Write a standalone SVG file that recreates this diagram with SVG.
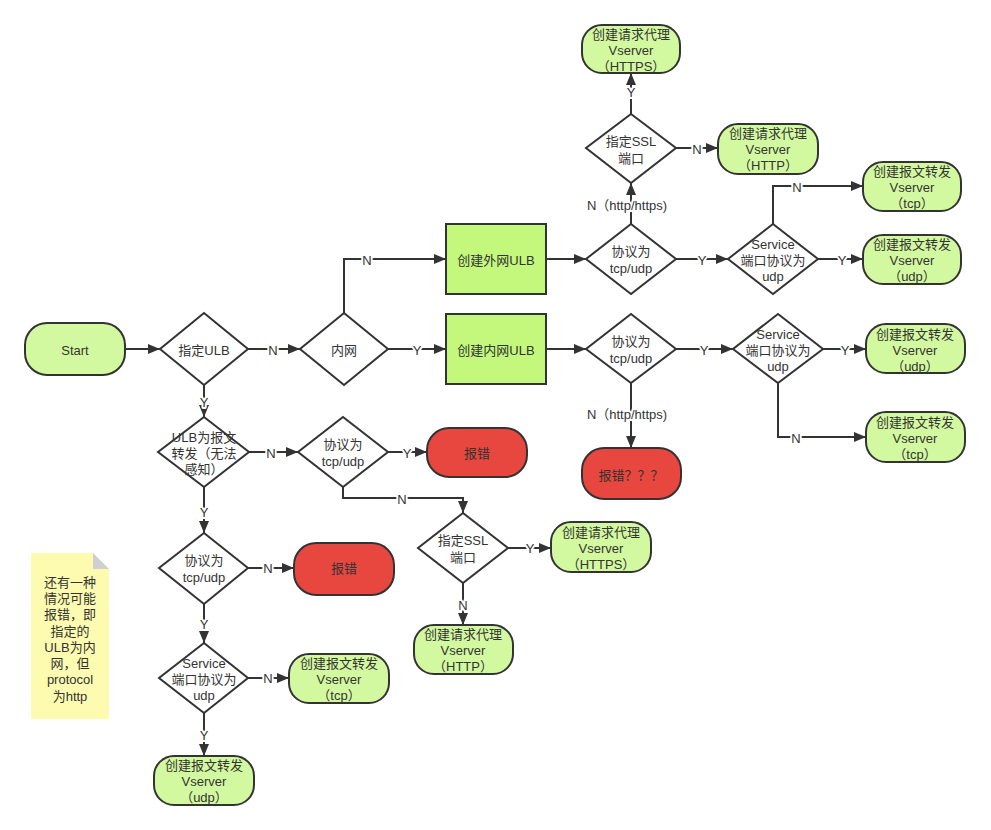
<svg xmlns="http://www.w3.org/2000/svg" width="991" height="830" viewBox="0 0 991 830">
<defs>
<marker id="ah" markerUnits="userSpaceOnUse" markerWidth="13" markerHeight="11" refX="12" refY="5" orient="auto"><path d="M0,0 L12,5 L0,10 z" fill="#333"/></marker>
<style>
text{font-family:"Liberation Sans","Noto Sans CJK SC",sans-serif;font-size:13px;fill:#333;text-anchor:middle;dominant-baseline:central}
.term{fill:#d3f9a0;stroke:#333;stroke-width:2}
.err{fill:#e8473f;stroke:#333;stroke-width:2}
.box{fill:#c3f87d;stroke:#333;stroke-width:2}
.dia{fill:#fff;stroke:#333;stroke-width:2}
.edge{fill:none;stroke:#333;stroke-width:2;marker-end:url(#ah)}
.lbl{stroke:#fff;stroke-width:4;paint-order:stroke;stroke-linejoin:round}
</style>
</defs>
<rect width="991" height="830" fill="#fff"/>

<g id="connectors">
<path class="edge" d="M125,349 H160"/>
<path class="edge" d="M248,349 H300"/>
<path class="edge" d="M344,313 V259 H446"/>
<path class="edge" d="M388,349 H446"/>
<path class="edge" d="M546,259 H586"/>
<path class="edge" d="M546,349 H586"/>
<path class="edge" d="M676,259 H728"/>
<path class="edge" d="M818,259 H863"/>
<path class="edge" d="M773,224 V186 H863"/>
<path class="edge" d="M631,224 V183"/>
<path class="edge" d="M631,114 V73"/>
<path class="edge" d="M676,148 H718"/>
<path class="edge" d="M676,349 H733"/>
<path class="edge" d="M823,349 H866"/>
<path class="edge" d="M778,383 V437 H866"/>
<path class="edge" d="M631,383 V448"/>
<path class="edge" d="M204,385 V417"/>
<path class="edge" d="M249,452 H298"/>
<path class="edge" d="M388,452 H427"/>
<path class="edge" d="M343,487 V498 H463 V513"/>
<path class="edge" d="M508,548 H551"/>
<path class="edge" d="M463,583 V625"/>
<path class="edge" d="M204,487 V533"/>
<path class="edge" d="M248,568 H294"/>
<path class="edge" d="M204,604 V643"/>
<path class="edge" d="M248,678 H289"/>
<path class="edge" d="M204,713 V756"/>
<text class="lbl" x="273" y="350">N</text>
<text class="lbl" x="367" y="260">N</text>
<text class="lbl" x="417" y="350">Y</text>
<text class="lbl" x="702" y="260">Y</text>
<text class="lbl" x="842" y="260">Y</text>
<text class="lbl" x="797" y="187">N</text>
<text class="lbl" x="627" y="205">N（http/https)</text>
<text class="lbl" x="631" y="92">Y</text>
<text class="lbl" x="697" y="149">N</text>
<text class="lbl" x="704" y="350">Y</text>
<text class="lbl" x="845" y="350">Y</text>
<text class="lbl" x="796" y="438">N</text>
<text class="lbl" x="627" y="414">N（http/https)</text>
<text class="lbl" x="204" y="402">Y</text>
<text class="lbl" x="271" y="453">N</text>
<text class="lbl" x="407" y="453">Y</text>
<text class="lbl" x="402" y="499">N</text>
<text class="lbl" x="530" y="548">Y</text>
<text class="lbl" x="463" y="605">N</text>
<text class="lbl" x="204" y="512">Y</text>
<text class="lbl" x="268" y="568">N</text>
<text class="lbl" x="204" y="624">Y</text>
<text class="lbl" x="268" y="678">N</text>
<text class="lbl" x="204" y="735">Y</text>
</g>

<g id="start"><rect class="term" x="25" y="323" width="100" height="52" rx="22"/><text x="75" y="350">Start</text></g>
<g id="d-ulb"><polygon class="dia" points="204,313 248,349 204,385 160,349"/><text x="204" y="350">指定ULB</text></g>
<g id="d-inner"><polygon class="dia" points="344,313 388,349 344,385 300,349"/><text x="344" y="350">内网</text></g>
<g id="create-ext"><rect class="box" x="446" y="224" width="100" height="70"/><text x="496" y="260">创建外网ULB</text></g>
<g id="create-int"><rect class="box" x="446" y="314" width="100" height="70"/><text x="496" y="350">创建内网ULB</text></g>

<g id="d-proto1"><polygon class="dia" points="631,224 676,259 631,294 586,259"/><text x="631" y="251">协议为</text><text x="631" y="268">tcp/udp</text></g>
<g id="d-svc1"><polygon class="dia" points="773,224 818,259 773,294 728,259"/><text x="773" y="244">Service</text><text x="773" y="260">端口协议为</text><text x="773" y="276">udp</text></g>
<g id="fwd-tcp1"><rect class="term" x="863" y="162" width="98" height="49" rx="20"/><text x="912" y="171">创建报文转发</text><text x="912" y="187">Vserver</text><text x="912" y="203">（tcp）</text></g>
<g id="fwd-udp1"><rect class="term" x="863" y="235" width="98" height="49" rx="20"/><text x="912" y="244">创建报文转发</text><text x="912" y="260">Vserver</text><text x="912" y="276">（udp）</text></g>
<g id="d-ssl1"><polygon class="dia" points="631,114 676,148 631,183 586,148"/><text x="631" y="141">指定SSL</text><text x="631" y="158">端口</text></g>
<g id="proxy-https1"><rect class="term" x="582" y="25" width="98" height="48" rx="20"/><text x="631" y="34">创建请求代理</text><text x="631" y="50">Vserver</text><text x="631" y="66">（HTTPS）</text></g>
<g id="proxy-http1"><rect class="term" x="718" y="124" width="100" height="50" rx="20"/><text x="768" y="133">创建请求代理</text><text x="768" y="149">Vserver</text><text x="768" y="165">（HTTP）</text></g>

<g id="d-proto2"><polygon class="dia" points="631,314 676,349 631,383 586,349"/><text x="631" y="341">协议为</text><text x="631" y="358">tcp/udp</text></g>
<g id="d-svc2"><polygon class="dia" points="778,314 823,349 778,383 733,349"/><text x="778" y="334">Service</text><text x="778" y="350">端口协议为</text><text x="778" y="366">udp</text></g>
<g id="fwd-udp2"><rect class="term" x="866" y="324" width="99" height="49" rx="20"/><text x="915" y="334">创建报文转发</text><text x="915" y="350">Vserver</text><text x="915" y="366">（udp）</text></g>
<g id="fwd-tcp2"><rect class="term" x="866" y="412" width="99" height="50" rx="20"/><text x="915" y="422">创建报文转发</text><text x="915" y="438">Vserver</text><text x="915" y="454">（tcp）</text></g>
<g id="err3"><rect class="err" x="582" y="448" width="99" height="51" rx="22"/><text x="631" y="475">报错？？？</text></g>

<g id="d-fwd"><polygon class="dia" points="204,417 249,452 204,487 158,452"/><text x="204" y="437">ULB为报文</text><text x="204" y="453">转发（无法</text><text x="204" y="469">感知）</text></g>
<g id="d-proto3"><polygon class="dia" points="343,417 388,452 343,487 298,452"/><text x="343" y="444">协议为</text><text x="343" y="461">tcp/udp</text></g>
<g id="err1"><rect class="err" x="427" y="428" width="100" height="49" rx="22"/><text x="477" y="453">报错</text></g>
<g id="d-ssl2"><polygon class="dia" points="463,513 508,548 463,583 418,548"/><text x="463" y="540">指定SSL</text><text x="463" y="557">端口</text></g>
<g id="proxy-https2"><rect class="term" x="551" y="522" width="100" height="50" rx="20"/><text x="601" y="532">创建请求代理</text><text x="601" y="548">Vserver</text><text x="601" y="564">（HTTPS）</text></g>
<g id="proxy-http2"><rect class="term" x="414" y="625" width="99" height="49" rx="20"/><text x="463" y="634">创建请求代理</text><text x="463" y="650">Vserver</text><text x="463" y="666">（HTTP）</text></g>

<g id="d-proto4"><polygon class="dia" points="204,533 248,568 204,604 159,568"/><text x="204" y="560">协议为</text><text x="204" y="577">tcp/udp</text></g>
<g id="err2"><rect class="err" x="294" y="543" width="100" height="52" rx="22"/><text x="344" y="568">报错</text></g>
<g id="d-svc3"><polygon class="dia" points="204,643 248,678 204,713 159,678"/><text x="204" y="663">Service</text><text x="204" y="679">端口协议为</text><text x="204" y="695">udp</text></g>
<g id="fwd-tcp3"><rect class="term" x="289" y="654" width="100" height="49" rx="20"/><text x="339" y="663">创建报文转发</text><text x="339" y="679">Vserver</text><text x="339" y="695">（tcp）</text></g>
<g id="fwd-udp3"><rect class="term" x="154" y="756" width="100" height="49" rx="20"/><text x="204" y="765">创建报文转发</text><text x="204" y="781">Vserver</text><text x="204" y="797">（udp）</text></g>

<g id="note">
<path d="M31,553 H93 L109,569 V719 H31 Z" fill="#fdfbb0"/>
<path d="M93,553 L109,569 H93 Z" fill="#cfcfcf"/>
<text x="70" y="582">还有一种</text>
<text x="70" y="598">情况可能</text>
<text x="70" y="614">报错，即</text>
<text x="70" y="631">指定的</text>
<text x="70" y="647">ULB为内</text>
<text x="70" y="663">网，但</text>
<text x="70" y="679">protocol</text>
<text x="70" y="696">为http</text>
</g>
</svg>
